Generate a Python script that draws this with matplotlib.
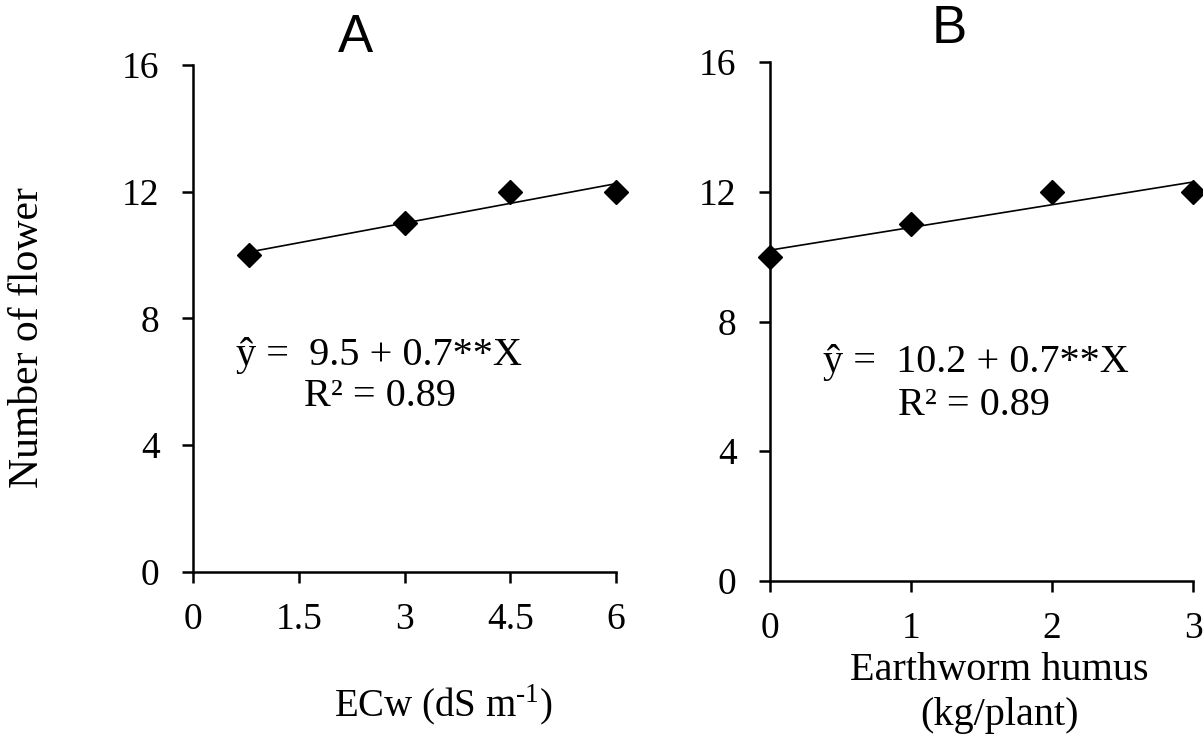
import matplotlib
matplotlib.use("Agg")
import matplotlib.pyplot as plt
import numpy as np

# panel A: water salinity
ecw = [0.8, 3.0, 4.5, 6.0]
flowers_a = [10, 11, 12, 12]
ecw_ticks = [0, 1.5, 3, 4.5, 6]
ecw_tick_labels = ["0", "1.5", "3", "4.5", "6"]

# panel B: earthworm humus dose
humus = [0, 1, 2, 3]
flowers_b = [10, 11, 12, 12]
humus_ticks = [0, 1, 2, 3]

y_ticks = [0, 4, 8, 12, 16]

eq_a = ["ŷ =  9.5 + 0.7**X", "R² = 0.89"]
eq_b = ["ŷ =  10.2 + 0.7**X", "R² = 0.89"]

W, H = 1203, 734

plt.rcParams["font.family"] = ["Liberation Serif", "DejaVu Serif"]
plt.rcParams["mathtext.fontset"] = "custom"
plt.rcParams["mathtext.rm"] = "Liberation Serif"

fig = plt.figure(figsize=(W / 100, H / 100), dpi=100)
ax_a = fig.add_axes([193 / W, 1 - 572 / H, 423 / W, 507 / H])
ax_b = fig.add_axes([770 / W, 1 - 581 / H, 423 / W, 519 / H])


def style_axes(ax, x, y, xmax, xticks, xlabels):
    ax.plot(x, y, linestyle="none", marker="D", markersize=12.5, color="black",
            clip_on=False, zorder=3)
    slope, intercept = np.polyfit(x, y, 1)
    xs = np.array([min(x), max(x)])
    ax.plot(xs, intercept + slope * xs, color="black", linewidth=1.2, zorder=2)
    ax.set_xlim(0, xmax)
    ax.set_ylim(0, 16)
    ax.set_xticks(xticks)
    ax.set_xticklabels(xlabels)
    ax.set_yticks(y_ticks)
    for side in ["top", "right"]:
        ax.spines[side].set_visible(False)
    for side in ["left", "bottom"]:
        ax.spines[side].set_linewidth(1.8)
    ax.tick_params(axis="both", direction="out", length=8, width=1.8,
                   labelsize=27)
    ax.tick_params(axis="x", pad=14)
    ax.tick_params(axis="y", pad=16)


style_axes(ax_a, ecw, flowers_a, 6, ecw_ticks, ecw_tick_labels)
style_axes(ax_b, humus, flowers_b, 3, humus_ticks, [str(t) for t in humus_ticks])


def ftext(px, py, s, **kw):
    fig.text(px / W, 1 - py / H, s, ha="center", va="center", **kw)


ftext(379, 355, eq_a[0], fontsize=29)
ftext(380, 396, eq_a[1], fontsize=29)
ftext(976, 362, eq_b[0], fontsize=29)
ftext(974, 406, eq_b[1], fontsize=29)

ftext(355, 38, "A", fontsize=38, family=["Liberation Sans", "DejaVu Sans"])
ftext(949, 29, "B", fontsize=38, family=["Liberation Sans", "DejaVu Sans"])

ftext(28, 338, "Number of flower", rotation=90, fontsize=30)
ftext(443, 705, "ECw (dS m$^{\\mathregular{\u20101}}$)", fontsize=28)
ftext(999, 670, "Earthworm humus", fontsize=29)
ftext(999, 716, "(kg/plant)", fontsize=29)

fig.savefig("out.png", dpi=100)
